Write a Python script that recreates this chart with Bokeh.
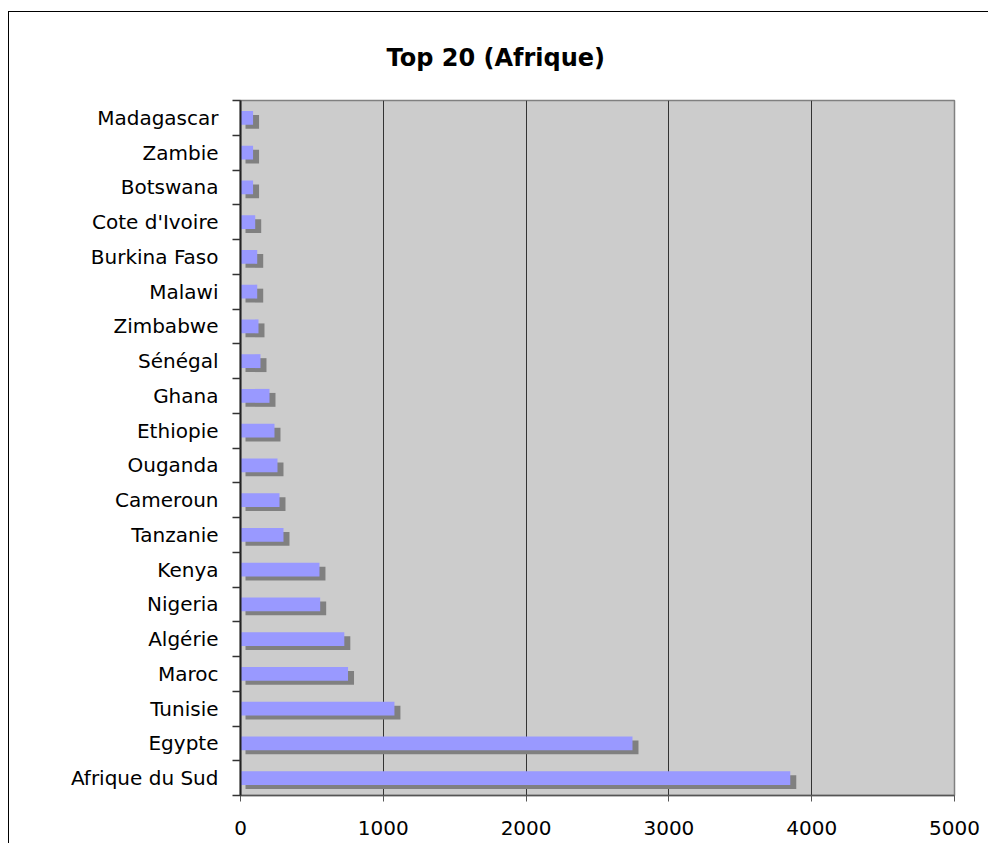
from bokeh.plotting import figure
from bokeh.models import Range1d, FixedTicker, ColumnDataSource
from bokeh.transform import dodge
from bokeh.embed import file_html
from bokeh.resources import INLINE

# Data (bottom to top)
countries = ["Afrique du Sud", "Egypte", "Tunisie", "Maroc", "Algérie", "Nigeria",
             "Kenya", "Tanzanie", "Cameroun", "Ouganda", "Ethiopie", "Ghana",
             "Sénégal", "Zimbabwe", "Malawi", "Burkina Faso", "Cote d'Ivoire",
             "Botswana", "Zambie", "Madagascar"]
values = [3850, 2745, 1078, 753, 727, 558, 553, 301, 273, 259, 238, 203,
          140, 126, 117, 117, 103, 88, 88, 88]
x_ticks = [0, 1000, 2000, 3000, 4000, 5000]
title_text = "Top 20 (Afrique)"

ypos = [i + 0.5 for i in range(len(countries))]
src = ColumnDataSource(dict(y=ypos, value=values, name=countries))

FONT = "DejaVu Sans"

p = figure(width=980, height=832, output_backend="svg", toolbar_location=None,
           x_range=Range1d(0, 5000), y_range=Range1d(0, len(countries)),
           min_border_left=231, min_border_right=35, min_border_top=88,
           min_border_bottom=49)
p.styles = {"margin-top": "11px", "margin-left": "8px",
            "border-left": "1px solid #000000",
            "border-top": "1px solid #000000"}

p.background_fill_color = "#CCCCCC"
p.border_fill_color = "#FFFFFF"
p.outline_line_color = "#808080"
p.outline_line_width = 1.5

# title
p.title.text = title_text
p.title.text_font = FONT
p.title.text_font_size = "24px"
p.title.text_font_style = "bold"
p.title.text_color = "#000000"
p.title.align = "left"
p.title.offset = 146
p.title.standoff = 58

# shadow bars
p.hbar(y=dodge("y", -0.115, range=p.y_range), left=35,
       right=dodge("value", 42, range=p.x_range), height=0.40,
       source=src, fill_color="#808080", line_color=None)
# main bars
p.hbar(y="y", left=0, right="value", height=0.40, source=src,
       fill_color="#9999FF", line_color=None)

# grid
p.ygrid.visible = False
p.xgrid.ticker = FixedTicker(ticks=x_ticks[1:-1])
p.xgrid.grid_line_color = "#333333"
p.xgrid.grid_line_width = 1

# x axis
xa = p.xaxis[0]
xa.ticker = FixedTicker(ticks=x_ticks)
xa.axis_line_color = "#555555"
xa.axis_line_width = 1.5
xa.major_tick_line_color = "#555555"
xa.major_tick_out = 6
xa.major_tick_in = 0
xa.minor_tick_line_color = None
xa.major_label_text_font = FONT
xa.major_label_text_font_size = "20px"
xa.major_label_text_color = "#000000"
xa.major_label_standoff = 19

# y axis
ya = p.yaxis[0]
ya.ticker = FixedTicker(ticks=ypos, minor_ticks=list(range(len(countries) + 1)))
ya.major_label_overrides = {y: c for y, c in zip(ypos, countries)}
ya.axis_line_color = "#222222"
ya.axis_line_width = 2
ya.major_tick_out = 0
ya.major_tick_in = 0
ya.major_tick_line_color = None
ya.minor_tick_out = 8
ya.minor_tick_in = 0
ya.minor_tick_line_color = "#333333"
ya.minor_tick_line_width = 1.5
ya.major_label_text_font = FONT
ya.major_label_text_font_size = "20px"
ya.major_label_text_color = "#000000"
ya.major_label_standoff = 14

open("out.html", "w").write(file_html(p, INLINE))
